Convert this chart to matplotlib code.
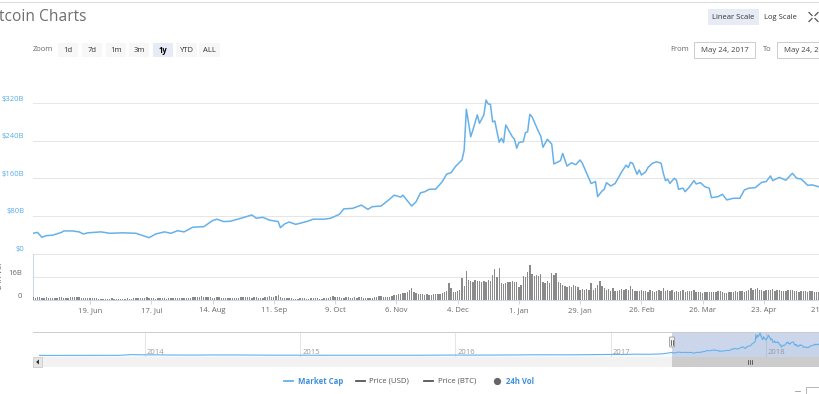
import numpy as np
import pandas as pd
import matplotlib
matplotlib.use('Agg')
from matplotlib import pyplot as plt
from matplotlib.patches import Rectangle, FancyBboxPatch
from matplotlib.transforms import ScaledTranslation

plt.rcParams['font.family'] = ['Open Sans', 'DejaVu Sans']

W, H = 820, 394

# ---- data ----
start = pd.Timestamp('2017-05-24')
end = pd.Timestamp('2018-05-24')

# market cap, billions USD, at day offsets from start
cap_days = [0, 2, 4, 6, 9, 13, 14, 18, 21, 23, 25, 31, 35, 41, 47, 53, 56, 60, 63, 66,
            69, 73, 78, 82, 84, 87, 90, 95, 100, 102, 105, 108, 112, 113, 115, 117, 120, 125, 128, 133,
            136, 140, 142, 146, 150, 153, 155, 159, 162, 165, 168, 169, 173, 175, 177, 179, 181, 184, 187, 189,
            191, 193, 196, 197, 198, 200, 201, 203, 204, 206, 207, 208, 209, 210, 211, 213, 214, 215, 216, 219,
            220, 221, 222, 224, 225, 226, 227, 228, 231, 232, 233, 235, 237, 238, 241, 242, 244, 246, 248, 250,
            251, 253, 255, 257, 258, 260, 261, 262, 264, 266, 269, 271, 272, 273, 274, 276, 277, 278, 280, 281,
            283, 285, 287, 288, 289, 290, 291, 293, 294, 295, 297, 298, 300, 302, 303, 305, 307, 309, 310, 313,
            315, 317, 320, 323, 325, 327, 330, 333, 335, 337, 338, 341, 344, 347, 349, 351, 354, 356, 359, 362,
            365]
cap_values = [43, 45, 34.5, 38, 39, 45, 48, 48, 46, 41.5, 44, 46, 43, 44, 43, 33.6, 41.5, 46, 43, 48.5,
              46, 56, 57, 70, 73, 68, 68.5, 75, 82, 75, 77, 71, 68, 55, 63, 67, 62, 68, 73, 73,
              75, 83.5, 95, 96, 103, 94, 99.6, 101, 112, 124, 120, 124, 101, 110, 129, 131.5, 136.6, 137, 153, 169,
              172, 185, 199, 220, 307, 248.5, 263, 295, 277, 295, 326.6, 318, 317.5, 280, 282, 236.6, 245, 236, 273.5, 248.5,
              243, 224, 236, 238, 257, 259, 296, 291, 259, 250, 226, 243, 233, 190.5, 197.5, 213, 186, 193, 189, 199,
              192, 170.7, 149, 153, 121, 133, 136.6, 150.7, 143.6, 149, 174, 188, 183, 194, 192, 168.5, 177.7, 167, 174, 183,
              192, 195, 192, 170.7, 155, 158, 149, 160, 156, 136.6, 139, 131.5, 142, 155, 148, 150.7, 142, 139, 118.8, 121,
              126, 114, 117.5, 117.5, 135, 139, 140, 151.5, 153, 165, 155, 162, 156, 170.7, 160, 158.5, 145, 146, 142, 143,
              140]

# 24h volume, billions USD, one bar per day from start
vol_values = [1.9, 1.7, 2.3, 2.0, 1.5, 1.4, 1.8, 1.6, 1.7, 1.5, 1.4, 1.6, 2.0, 1.8, 1.7, 1.5, 1.6, 2.1, 2.3, 2.4,
              2.0, 2.2, 1.7, 1.5, 1.6, 1.6, 1.4, 1.3, 1.2, 1.2,
              1.0, 0.9, 0.9, 0.8, 0.9, 1.0, 1.1, 1.0, 0.9, 0.8, 0.8, 0.9, 1.0, 1.1, 1.0, 1.0, 1.1, 1.2, 1.3, 1.2,
              1.5, 1.7, 1.9, 1.5, 1.2, 1.1, 1.0, 1.1, 1.3, 1.4, 1.2, 1.0, 1.2, 1.4, 1.6, 1.2, 1.1, 1.3, 1.2, 1.4,
              1.5, 1.6, 1.4, 1.8, 1.9, 2.2, 2.3, 2.6, 2.1, 1.9,
              2.0, 1.8, 1.6, 1.7, 2.0, 1.9, 1.6, 1.5, 1.4, 1.3, 1.5, 1.6, 1.7, 1.6, 1.7, 2.0, 1.8, 1.9, 2.1, 1.9,
              1.7, 1.9, 1.8, 1.5, 1.4, 1.6, 1.8, 2.4, 2.9, 2.3,
              2.0, 2.6, 3.1, 2.2, 1.6, 1.4, 1.3, 1.2, 1.1, 1.0, 1.0, 1.0, 1.1, 1.2, 1.1, 1.0, 1.0, 1.1, 1.2, 1.1,
              1.1, 1.0, 1.0, 1.1, 1.3, 1.6, 1.8, 2.5, 2.3, 2.0,
              1.9, 1.6, 1.7, 2.1, 1.8, 1.6, 1.5, 1.8, 1.7, 2.0, 1.9, 1.6, 1.5, 1.4, 1.6, 1.7, 1.8, 2.0, 2.6, 2.9,
              2.1, 1.8, 2.0, 2.3, 2.9, 3.5, 3.3, 3.8, 4.4, 5.0,
              4.6, 5.5, 6.8, 8.0, 5.6, 4.5, 4.0, 4.3, 3.9, 3.6, 3.8, 3.5, 3.7, 4.2, 3.9, 4.4, 4.3, 4.6, 5.4, 6.0,
              11.5, 8.2, 5.7, 5.5, 6.2, 6.8, 14.9, 9.5, 20.1, 13.5,
              13.0, 12.6, 13.7, 12.8, 13.2, 12.5, 13.4, 12.7, 13.5, 13.0, 17.2, 21.0, 15.5, 21.8, 11.5, 11.0, 11.8, 12.6, 12.2, 12.9,
              12.4, 12.6, 9.2, 10.5, 16.5, 16.0, 19.0, 24.0, 17.7, 16.8,
              17.5, 16.2, 17.7, 12.6, 12.0, 13.0, 11.5, 18.3, 17.0, 18.5, 12.6, 12.0, 10.0, 9.6, 9.0, 9.8, 9.2, 10.1, 9.4, 8.8,
              7.2, 7.5, 6.8, 7.6, 7.0, 11.9, 7.2, 8.0, 10.5, 13.3,
              9.5, 8.0, 6.8, 7.9, 6.2, 8.0, 6.5, 6.0, 7.2, 7.6, 7.0, 7.4, 6.6, 9.6, 7.7, 6.3, 5.9, 6.1, 6.8, 6.5,
              6.2, 5.8, 6.6, 6.0, 5.7, 6.3, 6.9, 5.9, 8.5, 6.4,
              6.6, 6.0, 6.9, 5.8, 6.2, 5.6, 6.3, 6.6, 5.5, 5.9, 6.4, 6.0, 6.8, 5.4, 5.6, 5.3, 5.0, 5.4, 5.2, 5.8,
              5.6, 5.3, 5.5, 5.9, 6.3, 5.2, 5.0, 4.8, 5.3, 5.7,
              5.5, 6.1, 5.8, 6.4, 6.0, 5.7, 6.2, 7.2, 8.1, 6.9, 7.8, 8.3, 6.7, 7.0, 6.4, 7.1, 6.6, 6.9, 7.3, 6.2,
              6.8, 7.0, 6.5, 6.3, 6.0, 6.6, 6.8, 7.2, 6.4, 6.1,
              5.8, 6.0, 6.5, 6.2, 5.6, 5.9, 6.1, 5.7, 5.4, 5.8, 6.0, 5.9, 6.3, 5.6, 5.5, 5.8]

# navigator history before the selected year, monthly, billions
nav_first = '2013-04-28'
nav_early_values = [1.5,
                    1.3, 1.3, 1.0, 1.1, 1.5, 1.6, 2.5, 13.0,
                    9.0, 10.0, 7.0, 5.6, 5.8, 8.0, 8.0, 7.7, 6.3, 5.2, 4.4, 5.0,
                    4.3, 3.1, 3.6, 3.5, 3.2, 3.2, 3.5, 4.2, 3.4, 3.5, 4.6, 5.3,
                    6.5, 5.8, 6.9, 6.5, 7.0, 8.4, 10.4, 10.1, 9.0, 9.8, 11.7, 12.1,
                    15.5, 15.4, 19.2, 17.8, 23.4]

tick_dates = ['2017-06-19', '2017-07-17', '2017-08-14', '2017-09-11', '2017-10-09', '2017-11-06',
              '2017-12-04', '2018-01-01', '2018-01-29', '2018-02-26', '2018-03-26', '2018-04-23', '2018-05-21']
tick_labels = ['19. Jun', '17. Jul', '14. Aug', '11. Sep', '9. Oct', '6. Nov', '4. Dec',
               '1. Jan', '29. Jan', '26. Feb', '26. Mar', '23. Apr', '21. May']
cap_ticks = [0, 80, 160, 240, 320]
cap_tick_labels = ['$0', '$80B', '$160B', '$240B', '$320B']
vol_ticks = [0, 16]
vol_tick_labels = ['0', '16B']
nav_years = ['2014', '2015', '2016', '2017', '2018']

zoom_buttons = ['1d', '7d', '1m', '3m', '1y', 'YTD', 'ALL']

LINE = '#66b1e9'
GRID = '#e6e6e6'
AXC = '#ccd6eb'

cap_dates = start + pd.to_timedelta(cap_days, unit='D')
vol_dates = start + pd.to_timedelta(np.arange(len(vol_values)), unit='D')
nav_dates = pd.DatetimeIndex([pd.Timestamp(nav_first)]).append(
    pd.date_range('2013-05-01', '2017-05-01', freq='MS')).append(cap_dates)
nav_values = nav_early_values + cap_values


def box(x0, y0, x1, y1):
    return [x0 / W, 1 - y1 / H, (x1 - x0) / W, (y1 - y0) / H]


fig = plt.figure(figsize=(W / 100, H / 100), dpi=100)
fig.patch.set_facecolor('white')

# ---- main market cap panel ----
ax = fig.add_axes(box(33.1, 65.5, 831.8, 253.5))
ax.plot(cap_dates, cap_values, color=LINE, lw=1.1, zorder=3, solid_joinstyle='round')
ax.set_xlim(start, end)
ax.set_ylim(0, 400)
ax.set_yticks(cap_ticks)
ax.yaxis.grid(True, color=GRID, lw=0.75)
ax.set_axisbelow(True)
ax.tick_params(length=0, labelleft=False, labelbottom=False)
for s in ax.spines.values():
    s.set_visible(False)
tr = ax.get_yaxis_transform() + ScaledTranslation(-9 / 100, 4 / 100, fig.dpi_scale_trans)
for v, lab in zip(cap_ticks, cap_tick_labels):
    ax.text(0, v, lab, transform=tr, ha='right', va='center', fontsize=5.5, color='#5aaee6')

# ---- volume panel ----
axv = fig.add_axes(box(33.1, 253.5, 831.8, 300))
axv.bar(vol_dates, vol_values, width=0.62, color='#8a8a8a', zorder=3)
axv.set_xlim(start, end)
axv.set_ylim(0, 32)
axv.set_yticks([0, 16, 32])
axv.yaxis.grid(True, color=GRID, lw=0.75)
axv.set_axisbelow(True)
axv.set_xticks(pd.to_datetime(tick_dates))
axv.set_xticklabels(tick_labels)
axv.tick_params(axis='x', length=3, width=0.7, color=AXC, pad=2, labelsize=5.5, labelcolor='#666666')
axv.tick_params(axis='y', length=0, labelleft=False)
for k in ['top', 'right']:
    axv.spines[k].set_visible(False)
for k in ['left', 'bottom']:
    axv.spines[k].set_color(AXC)
    axv.spines[k].set_linewidth(0.75)
trv = axv.get_yaxis_transform() + ScaledTranslation(-11 / 100, 3.5 / 100, fig.dpi_scale_trans)
for v, lab in zip(vol_ticks, vol_tick_labels):
    axv.text(0, v, lab, transform=trv, ha='right', va='center', fontsize=5.5, color='#666666')

# ---- navigator ----
axn = fig.add_axes(box(33.1, 332, 826.8, 357))
axn.set_xlim(pd.Timestamp('2013-04-13'), end)
axn.set_ylim(-21.8, 341)
axn.axvspan(start, end, color='#6685c2', alpha=0.33, lw=0, zorder=1)
for yr in nav_years:
    d = pd.Timestamp(yr + '-01-01')
    axn.axvline(d, color=GRID, lw=0.75, zorder=0)
    axn.text(d, -4, yr, fontsize=5.5, color='#999999', ha='left', va='bottom',
             transform=axn.transData + ScaledTranslation(2 / 100, 0, fig.dpi_scale_trans))
axn.fill_between(nav_dates, nav_values, -21.8, color=LINE, alpha=0.06, lw=0, zorder=2)
axn.plot(nav_dates, nav_values, color=LINE, lw=0.8, zorder=3)
axn.set_xticks([])
axn.set_yticks([])
for s in axn.spines.values():
    s.set_visible(False)

# ---- overlay in pixel coordinates ----
ov = fig.add_axes([0, 0, 1, 1], zorder=10)
ov.set_xlim(0, W)
ov.set_ylim(H, 0)
ov.axis('off')

ov.plot([0, W], [1.7, 1.7], color='#dddddd', lw=0.8)
ov.plot([33, W], [332, 332], color='#cccccc', lw=0.7)
ov.text(87, 17, 'Bitcoin Charts', ha='right', va='center', fontsize=11.2, color='#6f6f6f')

# range selector buttons
ov.text(33, 49.5, 'Zoom', ha='left', va='center', fontsize=5.5, color='#666666')
bx = [58, 82, 106, 129, 153, 176, 199]
bw = [20, 20, 20, 20, 20, 21, 21]
for x0, w, lab in zip(bx, bw, zoom_buttons):
    sel = lab == '1y'
    ov.add_patch(Rectangle((x0, 43), w, 14, facecolor='#e6ebf5' if sel else '#f7f7f7', lw=0))
    ov.text(x0 + w / 2, 50, lab, ha='center', va='center', fontsize=5.5,
            color='#000000' if sel else '#333333', fontweight='bold' if sel else 'normal')

# scale buttons
ov.add_patch(Rectangle((708, 9), 51, 16, facecolor='#e6ebf5', lw=0))
ov.text(733.5, 17, 'Linear Scale', ha='center', va='center', fontsize=5.5, color='#333333')
ov.text(780, 17, 'Log Scale', ha='center', va='center', fontsize=5.5, color='#333333')
for (x1, y1, x2, y2) in [(809, 12.5, 812, 15.5), (818, 12.5, 815, 15.5), (809, 21.5, 812, 18.5), (818, 21.5, 815, 18.5)]:
    ov.plot([x1, x2], [y1, y2], color='#555555', lw=0.9)

# date inputs
ov.text(670, 49.5, 'From', ha='left', va='center', fontsize=5.5, color='#666666')
ov.add_patch(Rectangle((694, 41.5), 61, 16.5, facecolor='white', edgecolor='#cccccc', lw=0.7))
ov.text(724.5, 50, 'May 24, 2017', ha='center', va='center', fontsize=5.6, color='#444444')
ov.text(763, 49.5, 'To', ha='left', va='center', fontsize=5.5, color='#666666')
ov.add_patch(Rectangle((777, 41.5), 61, 16.5, facecolor='white', edgecolor='#cccccc', lw=0.7))
ov.text(807.5, 50, 'May 24, 2018', ha='center', va='center', fontsize=5.6, color='#444444')

# volume axis title (cut by the left edge)
ov.text(0.5, 276, '24h Vol', rotation=90, ha='center', va='center', fontsize=5.5, color='#666666')

# navigator handle
ov.add_patch(FancyBboxPatch((669.5, 337), 5, 10, boxstyle='round,pad=0,rounding_size=1',
                            facecolor='#f2f2f2', edgecolor='#999999', lw=0.6))
ov.plot([671.3, 671.3], [339.5, 344.5], color='#333333', lw=0.5)
ov.plot([672.8, 672.8], [339.5, 344.5], color='#333333', lw=0.5)

# scrollbar
ov.add_patch(Rectangle((33, 357), 800, 10, facecolor='#f2f2f2', lw=0))
ov.add_patch(Rectangle((33, 357), 9, 10, facecolor='#e6e6e6', edgecolor='#cccccc', lw=0.6))
ov.fill([39, 39, 36], [359.5, 364.5, 362], color='#333333', lw=0)
ov.add_patch(Rectangle((672, 357), 160, 10, facecolor='#cccccc', lw=0))
for gx in [748, 750, 752]:
    ov.plot([gx, gx], [360, 364], color='#333333', lw=0.5)

# legend
ly = 381
ov.plot([284, 293], [ly, ly], color=LINE, lw=1.3)
ov.text(298, ly, 'Market Cap', ha='left', va='center', fontsize=5.6, color='#3f8fd8', fontweight='bold')
ov.plot([356, 365], [ly, ly], color='#555555', lw=1.3)
ov.text(369, ly, 'Price (USD)', ha='left', va='center', fontsize=5.6, color='#555555')
ov.plot([424, 433], [ly, ly], color='#555555', lw=1.3)
ov.text(438, ly, 'Price (BTC)', ha='left', va='center', fontsize=5.6, color='#555555')
ov.plot([497.5], [ly], marker='o', ms=4.2, color='#666666', lw=0)
ov.text(506, ly, '24h Vol', ha='left', va='center', fontsize=5.6, color='#3f8fd8', fontweight='bold')

# bits of the next widget at the bottom right corner
ov.plot([795, 800], [391, 391], color='#999999', lw=0.6)
ov.add_patch(Rectangle((806, 387), 30, 14, facecolor='white', edgecolor='#aaaaaa', lw=0.6))

fig.savefig('out.png', dpi=100)
